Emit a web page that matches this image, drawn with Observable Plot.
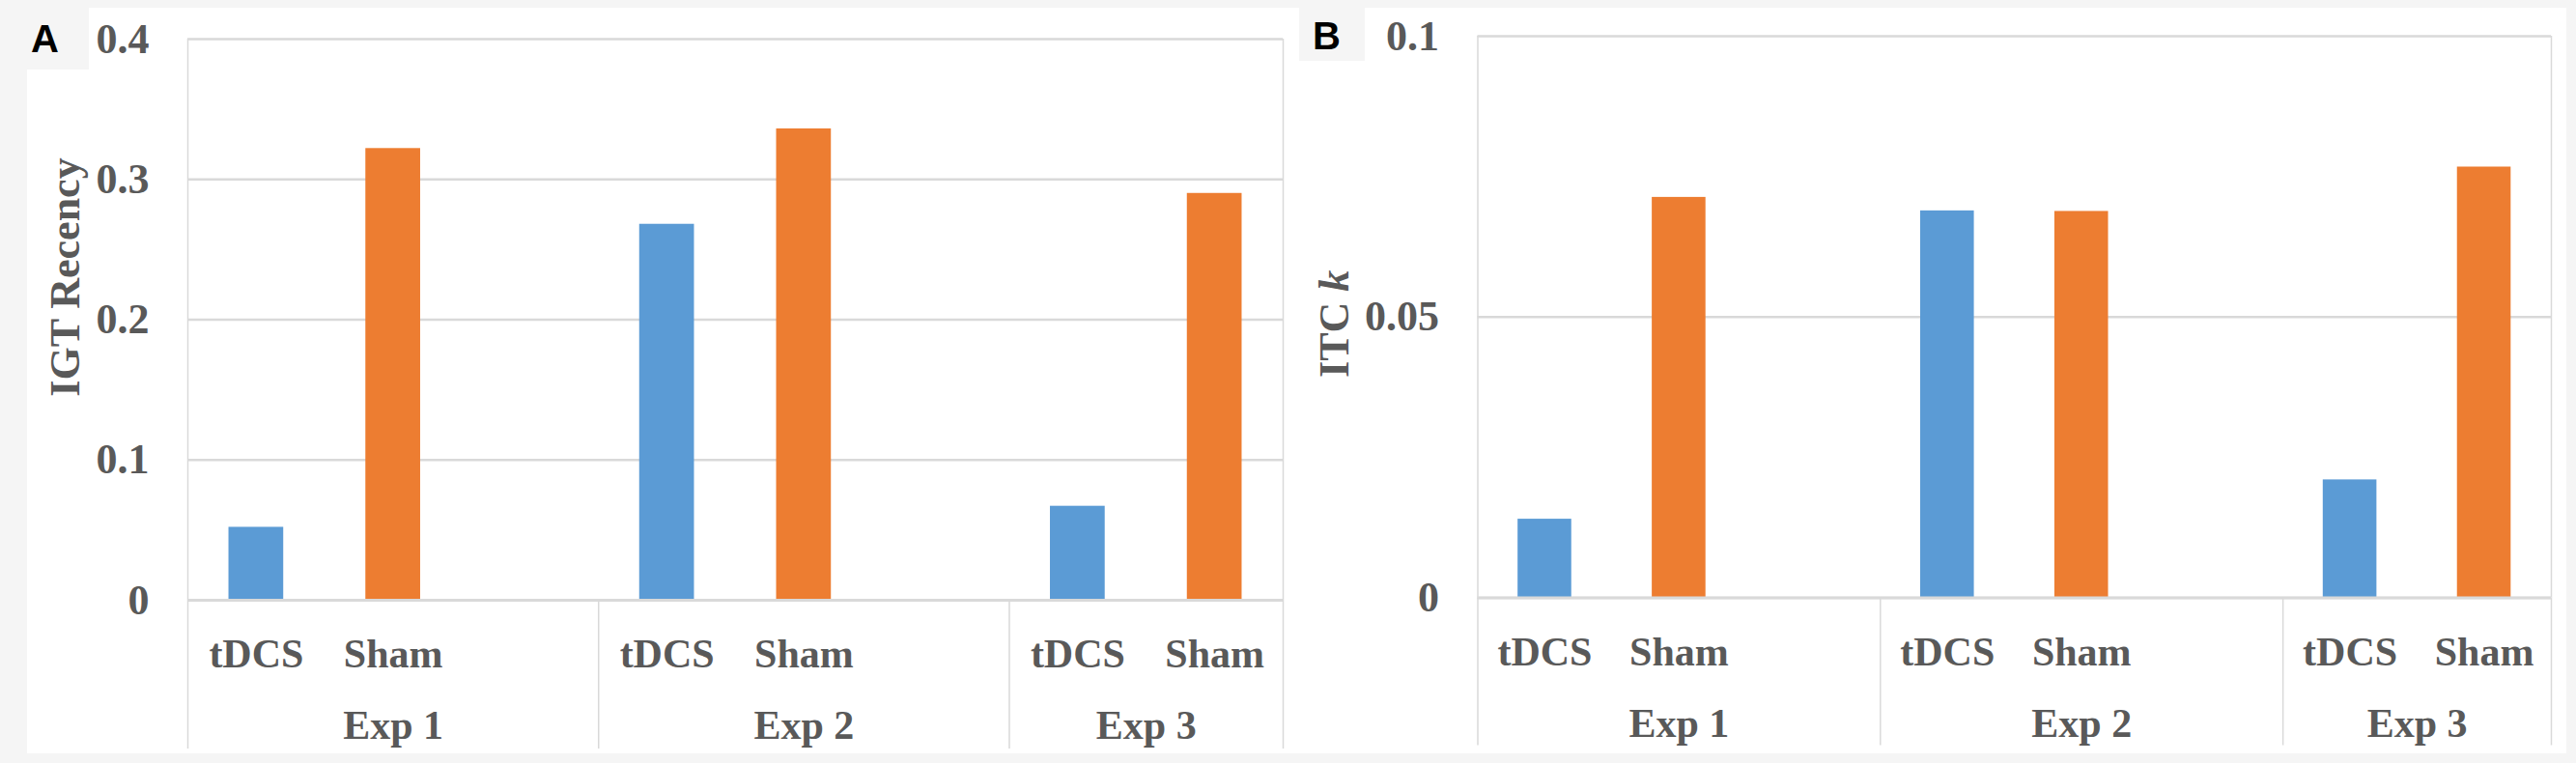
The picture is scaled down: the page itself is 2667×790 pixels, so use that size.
<!DOCTYPE html>
<html>
<head>
<meta charset="utf-8">
<script src="https://cdn.jsdelivr.net/npm/d3@7"></script>
<script src="https://cdn.jsdelivr.net/npm/@observablehq/plot@0.6"></script>
<style>
  html, body { margin: 0; padding: 0; background: #f5f5f5; }
  #page { position: relative; width: 2667px; height: 790px; background: #f5f5f5; overflow: hidden; }
  .panel { position: absolute; background: #ffffff; }
  .notch { position: absolute; background: #f5f5f5; }
  .plot { position: absolute; top: 0; }
  .tag { position: absolute; font-family: "Liberation Sans", Arial, sans-serif; font-weight: bold; font-size: 40px; line-height: 40px; color: #000; }
</style>
</head>
<body>
<div id="page">
  <div class="panel" style="left:28px;top:8px;width:1317px;height:772px"></div>
  <div class="notch" style="left:28px;top:8px;width:64px;height:64px"></div>
  <div class="panel" style="left:1345px;top:8px;width:1312px;height:772px"></div>
  <div class="notch" style="left:1345px;top:8px;width:68px;height:55px"></div>
  <div class="tag" style="left:32px;top:20px">A</div>
  <div class="tag" style="left:1359px;top:17px">B</div>
  <div class="plot" id="plotA" style="left:0px"></div>
  <div class="plot" id="plotB" style="left:1345px"></div>
</div>
<script>
// ---- data ----
const expGroups = ["Exp 1", "Exp 2", "Exp 3"];
const conditions = ["tDCS", "Sham"];
const igtTDCS = [0.052, 0.268, 0.067];
const igtSham = [0.322, 0.336, 0.290];
const itcTDCS = [0.0140, 0.0689, 0.0210];
const itcSham = [0.0713, 0.0688, 0.0767];
const igtTicks = [0, 0.1, 0.2, 0.3, 0.4];
const itcTicks = [0, 0.05, 0.1];
const conditionColors = ["#5B9BD5", "#ED7D31"];

const serif = "'Liberation Serif', 'Times New Roman', serif";
const textGray = "#595959";
const gridGray = "#d9d9d9";

function panel(opts) {
  const slotsPerGroup = 3;
  const nSlots = (expGroups.length - 1) * slotsPerGroup + conditions.length;
  const series = [opts.tdcs, opts.sham];
  const bars = expGroups.flatMap((g, gi) =>
    conditions.map((c, ci) => ({group: g, condition: c, ci, slot: gi * slotsPerGroup + ci, value: series[ci][gi]}))
  );
  const bounds = [...expGroups.map((g, gi) => gi * slotsPerGroup), nSlots];
  const groupCenters = expGroups.map((g, gi) => (gi * slotsPerGroup + Math.min(gi * slotsPerGroup + slotsPerGroup, nSlots)) / 2);
  const slotCenters = bars.map(d => d.slot + 0.5);
  const fmt = d => d === 0 ? "0" : String(d);

  const chart = Plot.plot({
    width: opts.width,
    height: opts.height,
    marginLeft: opts.ml, marginRight: opts.mr, marginTop: opts.mt, marginBottom: opts.mb,
    style: {background: "transparent", color: textGray, fontFamily: serif, overflow: "visible"},
    x: {type: "linear", domain: [0, nSlots], axis: null},
    y: {domain: [0, opts.ticks[opts.ticks.length - 1]], axis: null},
    marks: [
      Plot.gridY(opts.ticks, {stroke: gridGray, strokeOpacity: 1, strokeWidth: 2.5}),
      Plot.ruleX([0, nSlots], {stroke: gridGray, strokeWidth: 1.5}),
      Plot.axisX({ticks: bounds, tickSize: opts.sepLen, tickFormat: () => "", stroke: gridGray, strokeWidth: 1.5}),
      Plot.rect(bars, {x1: d => d.slot + 0.3, x2: d => d.slot + 0.7, y1: 0, y2: "value", fill: d => conditionColors[d.ci]}),
      Plot.ruleY([0], {stroke: gridGray, strokeWidth: 3}),
      Plot.axisY({ticks: opts.ticks, tickSize: 0, tickPadding: 40, tickFormat: fmt, label: null,
        fontSize: 44, fontWeight: "bold", fontFamily: serif, fill: textGray}),
      Plot.axisX({ticks: slotCenters, tickSize: 0, tickPadding: 40, label: null,
        tickFormat: v => bars.find(d => d.slot + 0.5 === v).condition,
        fontSize: 42, fontWeight: "bold", fontFamily: serif, fill: textGray}),
      Plot.axisX({ticks: groupCenters, tickSize: 0, tickPadding: 114, label: null,
        tickFormat: v => expGroups[groupCenters.indexOf(v)],
        fontSize: 42, fontWeight: "bold", fontFamily: serif, fill: textGray}),
      Plot.text([opts.title], {frameAnchor: "left", rotate: -90, dx: opts.titleDx, dy: opts.titleDy,
        textAnchor: "middle", lineAnchor: "bottom", fontSize: 44, fontWeight: "bold", fontFamily: serif, fill: textGray})
    ]
  });
  return chart;
}

const a = panel({tdcs: igtTDCS, sham: igtSham, ticks: igtTicks, title: "IGT Recency",
  width: 1345, height: 790, ml: 194, mr: 17, mt: 40, mb: 169, sepLen: 154, titleDx: -113, titleDy: -44});
document.getElementById("plotA").appendChild(a);

const b = panel({tdcs: itcTDCS, sham: itcSham, ticks: itcTicks, title: "ITC k",
  width: 1322, height: 790, ml: 184.5, mr: 26, mt: 37, mb: 171.5, sepLen: 153, titleDx: -134.5, titleDy: 7});
document.getElementById("plotB").appendChild(b);

// italic k in "ITC k"
b.querySelectorAll("text").forEach(t => {
  if (t.textContent === "ITC k") {
    t.textContent = "ITC ";
    const ts = document.createElementNS("http://www.w3.org/2000/svg", "tspan");
    ts.setAttribute("font-style", "italic");
    ts.textContent = "k";
    t.appendChild(ts);
  }
});
</script>
</body>
</html>
